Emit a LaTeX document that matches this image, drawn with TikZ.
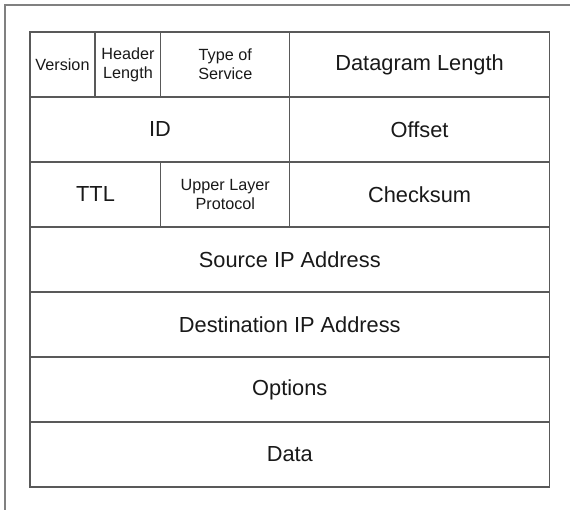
\documentclass[tikz,border=0pt]{standalone}
\usepackage{fontspec}
\setmainfont{Liberation Sans}
\usepackage{tikz}
\usetikzlibrary{positioning}

\tikzset{
	cellline/.style={draw=black!65, line width=1.1pt},
	frameline/.style={draw=black!50, line width=1.4pt},
	bigfield/.style={font=\fontsize{21.8}{26}\selectfont, text=black!90},
	smallfield/.style={font=\fontsize{16.2}{19}\selectfont, text=black!90, align=center},
}

\begin{document}
\begin{tikzpicture}[x=1pt, y=1pt]
	\useasboundingbox (0,0) rectangle (570,510);
	\fill[white] (0,0) rectangle (570,510);
	% outer window edge
	\draw[frameline] (5,0) -- (5,505) -- (570,505);
	
	% header frame
	\draw[cellline] (30,23) rectangle (549.5,478);
	\foreach \y in {413,348,283,218,153,88}
		\draw[cellline] (30,\y) -- (549.5,\y);
	\draw[cellline] (95,413) -- (95,478);
	\draw[cellline] (160.9,413) -- (160.9,478);
	\draw[cellline] (289.8,283) -- (289.8,478);
	\draw[cellline] (160.9,283) -- (160.9,348);
	
	% row 1
	\node[smallfield] (version) at (62.5,445.5) {Version};
	\node[smallfield] (hlen) at (128,445.5) {Header\\Length};
	\node[smallfield] (tos) at (225.3,445.5) {Type of\\Service};
	\node[bigfield] (dglen) at (419.6,445.5) {Datagram Length};
	
	% row 2
	\node[bigfield] (id) at (159.9,380.5) {ID};
	\node[bigfield] (offset) at (419.6,380.5) {Offset};
	
	% row 3
	\node[bigfield] (ttl) at (95.5,315.5) {TTL};
	\node[smallfield] (proto) at (225.3,315.5) {Upper Layer\\Protocol};
	\node[bigfield] (chksum) at (419.6,315.5) {Checksum};
	
	% remaining rows
	\node[bigfield] (srcip) at (289.8,250.5) {Source IP Address};
	\node[bigfield] (dstip) at (289.8,185.5) {Destination IP Address};
	\node[bigfield] (opts) at (289.8,120.5) {Options};
	\node[bigfield] (data) at (289.8,55.5) {Data};
\end{tikzpicture}
\end{document}
